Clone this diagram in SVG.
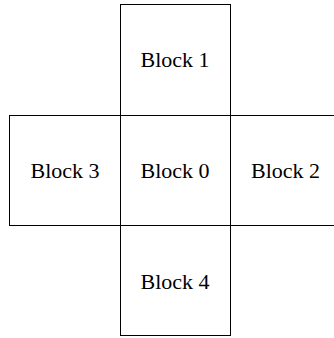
<svg xmlns="http://www.w3.org/2000/svg" width="334" height="338" viewBox="0 0 334 338">
<style>
rect.blk { fill: #ffffff; stroke: #000000; stroke-width: 1; }
text.lbl { font-family: "Liberation Serif", "Times New Roman", serif; font-size: 22px; fill: #000000; text-anchor: middle; }
</style>
<rect width="334" height="338" fill="#ffffff"/>
<g id="block1"><rect class="blk" x="120.5" y="4.5" width="110" height="111"/><text class="lbl" x="175" y="67">Block 1</text></g>
<g id="block3"><rect class="blk" x="9.5" y="115.5" width="111" height="110"/><text class="lbl" x="65" y="178">Block 3</text></g>
<g id="block2"><rect class="blk" x="230.5" y="115.5" width="110" height="110"/><text class="lbl" x="285.5" y="178">Block 2</text></g>
<g id="block4"><rect class="blk" x="120.5" y="225.5" width="110" height="110"/><text class="lbl" x="175" y="289">Block 4</text></g>
<g id="block0"><rect class="blk" x="120.5" y="115.5" width="110" height="110"/><text class="lbl" x="175" y="178">Block 0</text></g>
<g id="connectors"></g>
</svg>
